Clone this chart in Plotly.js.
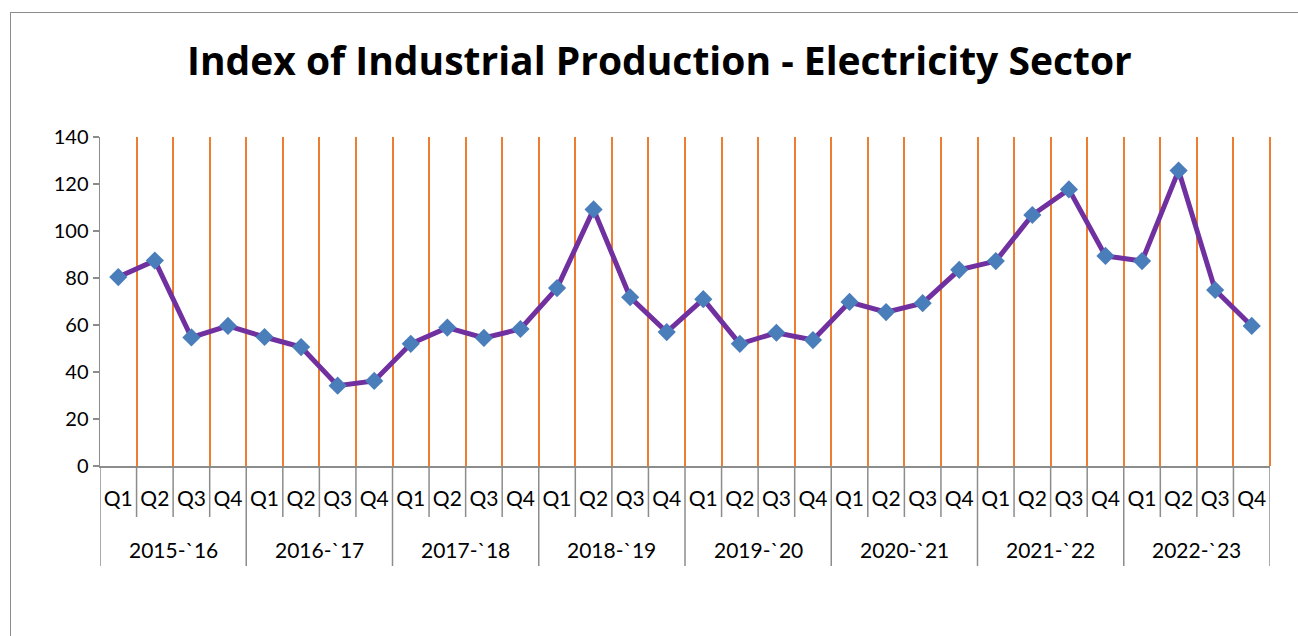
<!DOCTYPE html>
<html>
<head>
<meta charset="utf-8">
<script src="https://cdn.plot.ly/plotly-3.0.1.min.js"></script>
<style>
  html, body { margin: 0; padding: 0; background: #fff; }
  #wrap { position: relative; width: 1298px; height: 636px; overflow: hidden; }
  #frame { position: absolute; left: 10px; top: 12px; width: 1400px; height: 700px; border: 1.5px solid #8c8c8c; box-sizing: border-box; pointer-events: none; }
  #chart { position: absolute; left: 0; top: 0; width: 1298px; height: 636px; }
</style>
</head>
<body>
<div id="wrap">
  <div id="chart"></div>
  <div id="frame"></div>
</div>
<script>
const years = ["2015-`16", "2016-`17", "2017-`18", "2018-`19", "2019-`20", "2020-`21", "2021-`22", "2022-`23"];
const quarters = ["Q1", "Q2", "Q3", "Q4"];
const values = [
  80.4, 87.4, 54.7, 59.6,
  54.9, 50.6, 34.2, 36.2,
  52.0, 58.9, 54.5, 58.3,
  75.7, 109.2, 71.8, 57.0,
  71.0, 52.0, 56.7, 53.6,
  69.8, 65.5, 69.3, 83.5,
  87.2, 106.8, 117.7, 89.4,
  87.2, 125.7, 74.9, 59.6
];
const yTicks = [0, 20, 40, 60, 80, 100, 120, 140];

// category positions derived from the arrays
const qLabels = [];
years.forEach(() => quarters.forEach(q => qLabels.push(q)));
const idx = qLabels.map((_, i) => i);
const nQ = quarters.length;

const font = "Lato, Carlito, 'Liberation Sans', sans-serif";
const grey = '#8c8c8c';
const orange = '#ED7D31';
const plotH = 636 - 137 - 170;

const shapes = [];
// orange boundary line at the right edge of the plot area
shapes.push({
  type: 'line', xref: 'paper', yref: 'paper',
  x0: 1, x1: 1, y0: 0, y1: 1,
  line: { color: orange, width: 2 }, layer: 'below'
});
// short dividers between quarters, long dividers between years
for (let i = 0; i <= qLabels.length; i++) {
  const isYear = (i % nQ === 0);
  shapes.push({
    type: 'line', xref: 'x', yref: 'paper',
    x0: i - 0.5, x1: i - 0.5, y0: 0, y1: isYear ? -100 / plotH : -51 / plotH,
    line: { color: grey, width: 1.5 }, layer: 'above'
  });
}
const annotations = years.map((y, g) => ({
  xref: 'x', yref: 'paper',
  x: g * nQ + (nQ - 1) / 2, y: -(549 - 466) / plotH,
  text: y, showarrow: false, xanchor: 'center', yanchor: 'middle',
  font: { family: font, size: 21, color: '#000' }
}));

const trace = {
  type: 'scatter',
  mode: 'lines+markers',
  x: idx,
  y: values,
  line: { color: '#7030A0', width: 5 },
  marker: { symbol: 'diamond', size: 14, color: '#4A7EBB', line: { width: 0 } },
  hoverinfo: 'y',
  cliponaxis: false
};

const layout = {
  width: 1298, height: 636,
  margin: { l: 100, r: 28, t: 137, b: 170 },
  paper_bgcolor: '#fff', plot_bgcolor: '#fff',
  showlegend: false,
  title: {
    text: '<b>Index of Industrial Production - Electricity Sector</b>',
    x: 0.508, xanchor: 'center', y: 0.903, yref: 'container', yanchor: 'middle',
    font: { family: "'Open Sans', sans-serif", size: 39, color: '#000' }
  },
  xaxis: {
    range: [-0.5, qLabels.length - 0.5],
    tickmode: 'array', tickvals: idx, ticktext: qLabels,
    ticks: '', showgrid: false, zeroline: false,
    showline: true, linecolor: grey, linewidth: 1.5,
    ticklabelstandoff: 13,
    tickfont: { family: font, size: 21, color: '#000' },
    minor: {
      tick0: 0.5, dtick: 1, showgrid: true,
      gridcolor: orange, gridwidth: 2, ticks: ''
    }
  },
  yaxis: {
    range: [0, 140], tickmode: 'array', tickvals: yTicks, ticktext: yTicks.map(String),
    showgrid: false, zeroline: false,
    showline: true, linecolor: grey, linewidth: 1.5,
    ticks: 'outside', ticklen: 6, tickcolor: grey, tickwidth: 1.5,
    tickfont: { family: font, size: 20, color: '#000' }
  },
  shapes: shapes,
  annotations: annotations
};

Plotly.newPlot('chart', [trace], layout, { displayModeBar: false, staticPlot: true });
</script>
</body>
</html>
